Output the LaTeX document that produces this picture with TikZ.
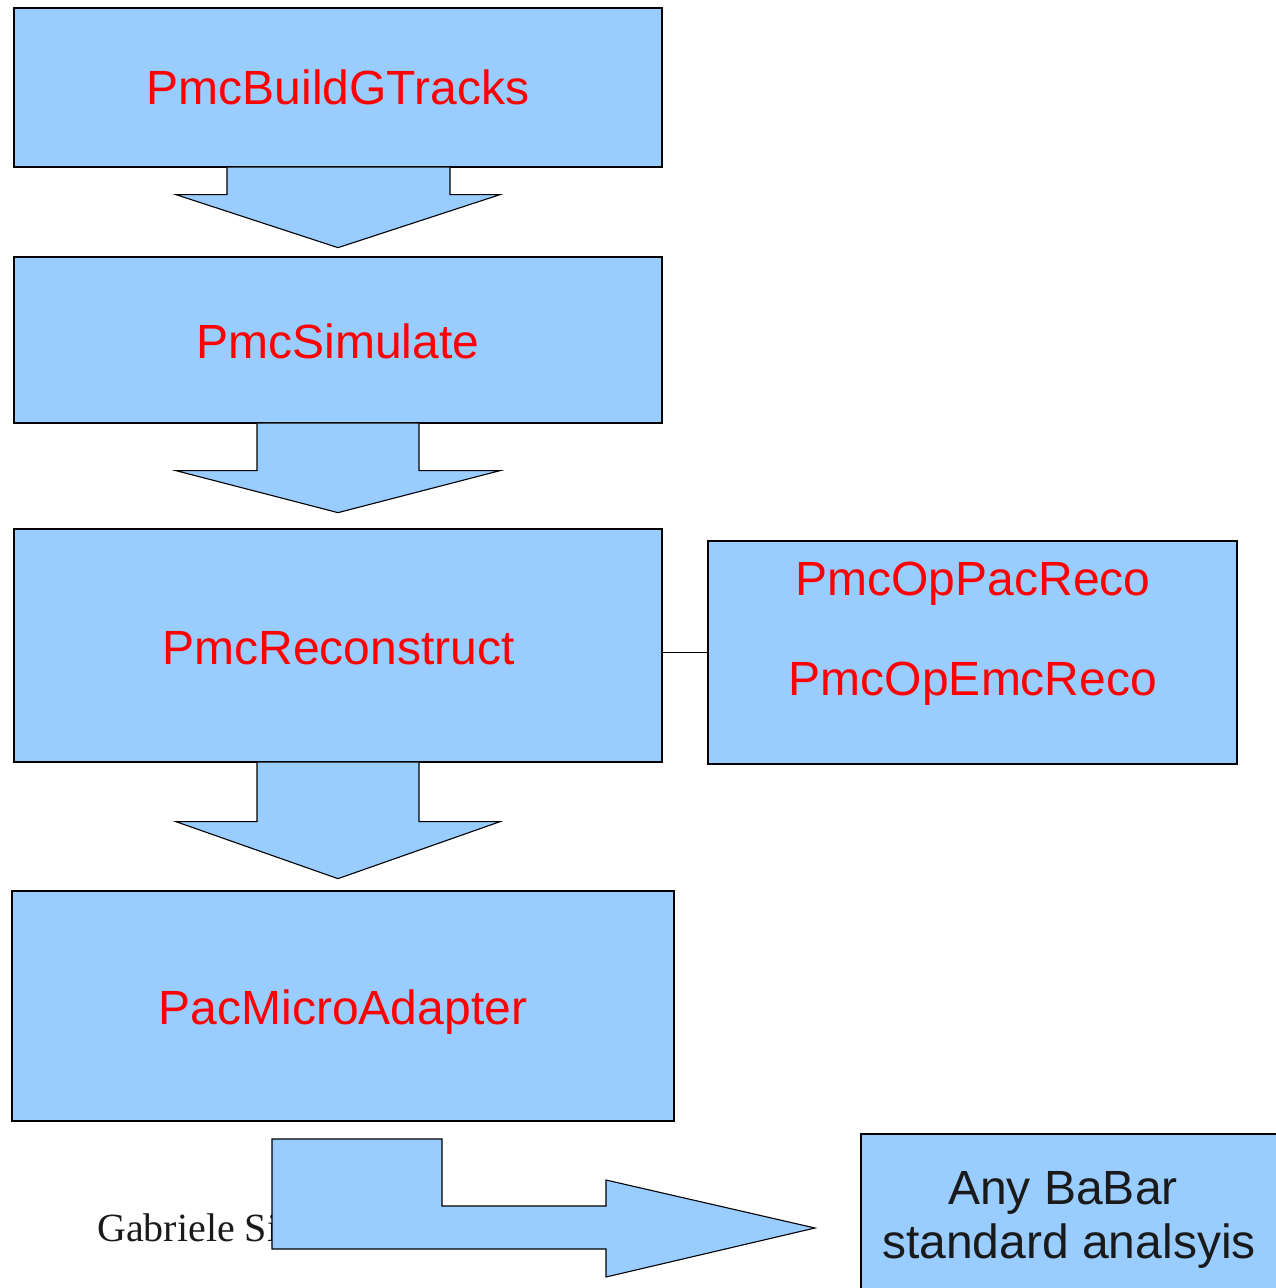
\documentclass[tikz,border=0pt]{standalone}
\usepackage{fontspec}
\setmainfont{Liberation Sans}
\newfontfamily\serifft{Liberation Serif}
\definecolor{boxblue}{HTML}{99CCFF}
\definecolor{txtred}{HTML}{FF0000}
\definecolor{txtdark}{HTML}{1A1A1A}
\begin{document}
\begin{tikzpicture}[x=1pt,y=-1pt,
  blockbox/.style={draw=black,fill=boxblue,line width=1.3pt,rectangle,inner sep=0pt},
  blockarrow/.style={draw=black,fill=boxblue,line width=1.1pt,line join=miter},
  redlabel/.style={text=txtred,inner sep=0pt,anchor=base,font=\fontsize{48}{55}\selectfont},
  darklabel/.style={text=txtdark,inner sep=0pt,anchor=base,font=\fontsize{48}{55}\selectfont},
  link/.style={draw=black,line width=1pt}]
\clip (0,0) rectangle (1276,1288);
\fill[white] (0,0) rectangle (1276,1288);

% footer text (partly hidden by the bent arrow)
\node[inner sep=0pt,anchor=base west,font=\serifft\fontsize{40}{45}\selectfont,text=txtdark] (footer) at (97,1241) {Gabriele Simi};

% boxes
\node[blockbox,minimum width=648pt,minimum height=159pt] (b1) at (338,87.5) {};
\node[blockbox,minimum width=648pt,minimum height=166pt] (b2) at (338,340) {};
\node[blockbox,minimum width=648pt,minimum height=233pt] (b3) at (338,645.5) {};
\node[blockbox,minimum width=529pt,minimum height=223pt] (b4) at (972.5,652.5) {};
\node[blockbox,minimum width=662pt,minimum height=230pt] (b5) at (343,1006) {};
\node[blockbox,minimum width=460pt,minimum height=200pt] (b6) at (1091,1234) {};

% block arrows between boxes
\draw[blockarrow] ([xshift=-111pt]b1.south) -- ++(0,27) -- ++(-51,0) -- ([yshift=-80pt]b1.south)
  -- ([xshift=162pt,yshift=-27pt]b1.south) -- ([xshift=112pt,yshift=-27pt]b1.south) -- ([xshift=112pt]b1.south);
\draw[blockarrow] ([xshift=-81pt]b2.south) -- ++(0,47) -- ++(-81,0) -- ([yshift=-89pt]b2.south)
  -- ([xshift=162pt,yshift=-47pt]b2.south) -- ([xshift=81pt,yshift=-47pt]b2.south) -- ([xshift=81pt]b2.south);
\draw[blockarrow] ([xshift=-81pt]b3.south) -- ++(0,59) -- ++(-81,0) -- ([yshift=-116pt]b3.south)
  -- ([xshift=162pt,yshift=-59pt]b3.south) -- ([xshift=81pt,yshift=-59pt]b3.south) -- ([xshift=81pt]b3.south);

% connector between reconstruct and option box
\draw[link] (b4.west) -- (b3.east |- b4.west);

% bent arrow at the bottom
\coordinate (bentstart) at (272,1139);
\coordinate (benttip) at (815,1228);
\draw[blockarrow] (bentstart) -- (442,1139) -- (442,1206) -- (606,1206) -- (606,1180)
  -- (benttip) -- (606,1277) -- (606,1249) -- (272,1249) -- cycle;

% labels
\node[redlabel] (t1) at (338,104) {PmcBuildGTracks};
\node[redlabel] (t2) at (338,358) {PmcSimulate};
\node[redlabel] (t3) at (338.5,664) {PmcReconstruct};
\node[redlabel] (t4a) at (973,595) {PmcOpPacReco};
\node[redlabel] (t4b) at (973,695) {PmcOpEmcReco};
\node[redlabel] (t5) at (343,1024) {PacMicroAdapter};
\node[darklabel] (t6a) at (1063,1204) {Any BaBar};
\node[darklabel] (t6b) at (1069,1258) {standard analsyis};
\end{tikzpicture}
\end{document}
